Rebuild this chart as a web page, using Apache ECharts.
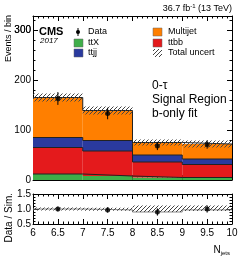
<!DOCTYPE html>
<html><head><meta charset="utf-8">
<script src="https://cdn.jsdelivr.net/npm/echarts@6/dist/echarts.min.js"></script>
<style>html,body{margin:0;padding:0;background:#fff}#c{width:241px;height:257px}</style>
</head><body><div id="c"></div>
<script>
// ---- data ----
const binEdges = [6, 7, 8, 9, 10];
const ttX = [12, 8, 5, 5];
const ttbb = [53, 50, 31, 26];
const ttjj = [20, 21, 14, 11];
const multijet = [80, 60, 25, 30];
const totalUnc = [8, 8, 6, 7];
const dataVals = [163, 133, 68, 71];
const dataErr = [12.8, 11.5, 8.2, 8.4];
const ratioVals = [1.0, 0.97, 0.9, 1.0];
const ratioErr = [0.08, 0.09, 0.12, 0.12];
const ratioBandLow = [0.95, 0.94, 0.9, 0.93];
const ratioBandHigh = [1.05, 1.04, 1.12, 1.12];
const ratioLine = [1.0, 0.97, 0.9, 0.97];
const topTicks = [0, 100, 200, 300];
const ratioTicks = [0.5, 1.0, 1.5];

const FONT = 'Liberation Sans, Arial, Helvetica, sans-serif';
const colors = {ttX: '#3fae49', ttbb: '#e41a1c', ttjj: '#2a3a9e', multijet: '#ff7f00'};

// hatch pattern
function makeHatch() {
  const c = document.createElement('canvas');
  c.width = 4; c.height = 4;
  const g = c.getContext('2d');
  g.strokeStyle = '#444';
  g.lineWidth = 1;
  g.beginPath();
  g.moveTo(-1, 5); g.lineTo(5, -1);
  g.stroke();
  return c;
}
const hatch = {image: makeHatch(), repeat: 'repeat'};

// stacked layers
const layers = [
  {name: 'ttX', vals: ttX},
  {name: 'ttbb', vals: ttbb},
  {name: 'ttjj', vals: ttjj},
  {name: 'multijet', vals: multijet}
];
const cum = [0, 0, 0, 0];
const rectData = [];
const stepLines = [];
layers.forEach((L, li) => {
  const tops = [];
  for (let i = 0; i < 4; i++) {
    const lo = cum[i], hi = cum[i] + L.vals[i];
    rectData.push([binEdges[i], binEdges[i + 1], lo, hi, li]);
    cum[i] = hi;
    tops.push(hi);
  }
  stepLines.push(tops);
});
const totals = cum.slice();

function rectRender(params, api) {
  const p0 = api.coord([api.value(0), api.value(3)]);
  const p1 = api.coord([api.value(1), api.value(2)]);
  const li = api.value(4);
  const fill = colors[layers[li].name];
  return {type: 'rect', shape: {x: p0[0], y: p0[1], width: p1[0] - p0[0], height: p1[1] - p0[1]},
          style: {fill: fill, stroke: null}};
}
function hatchRender(params, api) {
  const p0 = api.coord([api.value(0), api.value(3)]);
  const p1 = api.coord([api.value(1), api.value(2)]);
  return {type: 'rect', shape: {x: p0[0], y: p0[1], width: p1[0] - p0[0], height: p1[1] - p0[1]},
          style: {fill: hatch, stroke: null}};
}
function errRender(params, api) {
  const a = api.coord([api.value(0), api.value(1) - api.value(2)]);
  const b = api.coord([api.value(0), api.value(1) + api.value(2)]);
  return {type: 'line', shape: {x1: a[0], y1: a[1], x2: b[0], y2: b[1]}, style: {stroke: '#000', lineWidth: 1}};
}

const centers = [6.5, 7.5, 8.5, 9.5];
const series = [];
series.push({type: 'custom', xAxisIndex: 0, yAxisIndex: 0, renderItem: rectRender, data: rectData, silent: true, z: 1});
stepLines.forEach(tops => {
  const pts = tops.map((t, i) => [binEdges[i], t]);
  pts.push([binEdges[4], tops[3]]);
  series.push({type: 'line', xAxisIndex: 0, yAxisIndex: 0, step: 'end', data: pts, symbol: 'none',
               lineStyle: {color: '#222', width: 1}, silent: true, z: 2});
});
series.push({type: 'custom', xAxisIndex: 0, yAxisIndex: 0, renderItem: hatchRender, silent: true, z: 3,
  data: totals.map((t, i) => [binEdges[i], binEdges[i + 1], t - totalUnc[i], t + totalUnc[i]])});
series.push({type: 'custom', xAxisIndex: 0, yAxisIndex: 0, renderItem: errRender, silent: true, z: 4,
  data: dataVals.map((v, i) => [centers[i], v, dataErr[i]])});
series.push({type: 'scatter', xAxisIndex: 0, yAxisIndex: 0, symbol: 'circle', symbolSize: 5, silent: true, z: 5,
  itemStyle: {color: '#000'}, data: dataVals.map((v, i) => [centers[i], v])});

// ratio panel
series.push({type: 'custom', xAxisIndex: 2, yAxisIndex: 2, renderItem: hatchRender, silent: true, z: 3,
  data: ratioBandLow.map((l, i) => [binEdges[i], binEdges[i + 1], l, ratioBandHigh[i]])});
(function () {
  const pts = ratioLine.map((t, i) => [binEdges[i], t]);
  pts.push([binEdges[4], ratioLine[3]]);
  series.push({type: 'line', xAxisIndex: 2, yAxisIndex: 2, step: 'end', data: pts, symbol: 'none',
               lineStyle: {color: '#888', width: 1}, silent: true, z: 2});
})();
series.push({type: 'custom', xAxisIndex: 2, yAxisIndex: 2, renderItem: errRender, silent: true, z: 4,
  data: ratioVals.map((v, i) => [centers[i], v, ratioErr[i]])});
series.push({type: 'scatter', xAxisIndex: 2, yAxisIndex: 2, symbol: 'circle', symbolSize: 5, silent: true, z: 5,
  itemStyle: {color: '#000'}, data: ratioVals.map((v, i) => [centers[i], v])});

const lineStyle = {color: '#000', width: 1};
function xAx(grid, pos, labels) {
  return {type: 'value', gridIndex: grid, position: pos, min: 6, max: 10, interval: 0.5,
    axisLine: {show: true, onZero: false, lineStyle: lineStyle},
    axisTick: {show: true, inside: true, length: 5, lineStyle: lineStyle},
    minorTick: {show: true, splitNumber: 5, length: 2.5, lineStyle: lineStyle},
    splitLine: {show: false},
    axisLabel: {show: labels, color: '#000', fontFamily: FONT, fontSize: 10, margin: 4,
      formatter: v => String(v)}};
}
function yAx(grid, pos, labels, min, max, interval, labelOpts) {
  return {type: 'value', gridIndex: grid, position: pos, min: min, max: max, interval: interval,
    axisLine: {show: true, onZero: false, lineStyle: lineStyle},
    axisTick: {show: true, inside: true, length: 5, lineStyle: lineStyle},
    minorTick: {show: true, splitNumber: 5, length: 2.5, lineStyle: lineStyle},
    splitLine: {show: false},
    axisLabel: Object.assign({show: labels, color: '#000', fontFamily: FONT, fontSize: 10, margin: 2}, labelOpts)};
}
const topLabel = {showMaxLabel: false, formatter: v => String(v)};
const ratioLabel = {showMinLabel: true, showMaxLabel: true, formatter: v => v.toFixed(1)};

// helper axis on the same scale that only carries the top "300" label
const topHelper = {type: 'value', gridIndex: 0, position: 'left', offset: 0, min: 0, max: 328, interval: 100,
  axisLine: {show: false}, axisTick: {show: false}, minorTick: {show: false}, splitLine: {show: false},
  axisLabel: {show: true, customValues: topTicks.slice(-1), showMinLabel: true, showMaxLabel: true,
    hideOverlap: false, color: '#000', fontFamily: FONT, fontSize: 10, margin: 2, formatter: v => String(v)}};

const legendLeft = [
  {name: 'ttX', color: colors.ttX, y: 43},
  {name: 'ttjj', color: colors.ttjj, y: 53}
];
const legendRight = [
  {name: 'Multijet', fill: colors.multijet, y: 32},
  {name: 'ttbb', fill: colors.ttbb, y: 43},
  {name: 'Total uncert', fill: hatch, y: 53}
];
const graphics = [];
graphics.push({type: 'circle', shape: {cx: 78, cy: 32, r: 2}, style: {fill: '#000'}});
graphics.push({type: 'line', shape: {x1: 78, y1: 28, x2: 78, y2: 36}, style: {stroke: '#000', lineWidth: 1}});
graphics.push({type: 'text', x: 88, y: 32, style: {text: 'Data', font: '9px ' + FONT, fill: '#000', textVerticalAlign: 'middle'}});
legendLeft.forEach(e => {
  graphics.push({type: 'rect', shape: {x: 74, y: e.y - 4, width: 9, height: 8}, style: {fill: e.color, stroke: '#666', lineWidth: 0.5}});
  graphics.push({type: 'text', x: 88, y: e.y, style: {text: e.name, font: '9px ' + FONT, fill: '#000', textVerticalAlign: 'middle'}});
});
legendRight.forEach(e => {
  graphics.push({type: 'rect', shape: {x: 153, y: e.y - 4, width: 9, height: 8}, style: {fill: e.fill, stroke: e.name === 'Total uncert' ? null : '#666', lineWidth: 0.5}});
  graphics.push({type: 'text', x: 168, y: e.y, style: {text: e.name, font: '9px ' + FONT, fill: '#000', textVerticalAlign: 'middle'}});
});
graphics.push({type: 'text', x: 39, y: 32, style: {text: 'CMS', font: 'bold 11px ' + FONT, fill: '#000', textVerticalAlign: 'middle'}});
graphics.push({type: 'text', x: 40, y: 41, style: {text: '2017', font: 'italic 8px ' + FONT, fill: '#000', textVerticalAlign: 'middle'}});
graphics.push({type: 'text', x: 152, y: 86, style: {text: '0-τ', font: '12px ' + FONT, fill: '#000', textVerticalAlign: 'middle'}});
graphics.push({type: 'text', x: 152, y: 100, style: {text: 'Signal Region', font: '12px ' + FONT, fill: '#000', textVerticalAlign: 'middle'}});
graphics.push({type: 'text', x: 152, y: 114, style: {text: 'b-only fit', font: '12px ' + FONT, fill: '#000', textVerticalAlign: 'middle'}});
graphics.push({type: 'text', x: 232, y: 9, style: {
  text: '36.7 fb{sup|-1} (13 TeV)', align: 'right', verticalAlign: 'middle', fontFamily: FONT, fontSize: 9, fill: '#000',
  rich: {sup: {fontSize: 6, verticalAlign: 'top', padding: [0, 0, 5, 0], fontFamily: FONT}}}});
graphics.push({type: 'text', x: 9, y: 15, rotation: Math.PI / 2, style: {
  text: 'Events / bin', font: '9px ' + FONT, fill: '#000', textAlign: 'right', textVerticalAlign: 'middle'}});
graphics.push({type: 'text', x: 9, y: 193, rotation: Math.PI / 2, style: {
  text: 'Data / Sim.', font: '10px ' + FONT, fill: '#000', textAlign: 'right', textVerticalAlign: 'middle'}});
graphics.push({type: 'text', x: 230, y: 250, style: {
  text: 'N{sub|jets}', align: 'right', verticalAlign: 'middle', fontFamily: FONT, fontSize: 10, fill: '#000',
  rich: {sub: {fontSize: 6, padding: [6, 0, 0, 0], fontFamily: FONT}}}});

const chart = echarts.init(document.getElementById('c'), null, {renderer: 'canvas'});
chart.setOption({
  animation: false,
  backgroundColor: '#fff',
  grid: [
    {left: 33, right: 9, top: 16, height: 164},
    {left: 33, right: 9, top: 194, height: 30}
  ],
  xAxis: [xAx(0, 'bottom', false), xAx(0, 'top', false), xAx(1, 'bottom', true), xAx(1, 'top', false)],
  yAxis: [
    yAx(0, 'left', true, 0, 328, 100, topLabel),
    yAx(0, 'right', false, 0, 328, 100, topLabel),
    yAx(1, 'left', true, 0.5, 1.5, 0.5, ratioLabel),
    yAx(1, 'right', false, 0.5, 1.5, 0.5, ratioLabel),
    topHelper
  ],
  series: series,
  graphic: graphics
});
</script></body></html>
